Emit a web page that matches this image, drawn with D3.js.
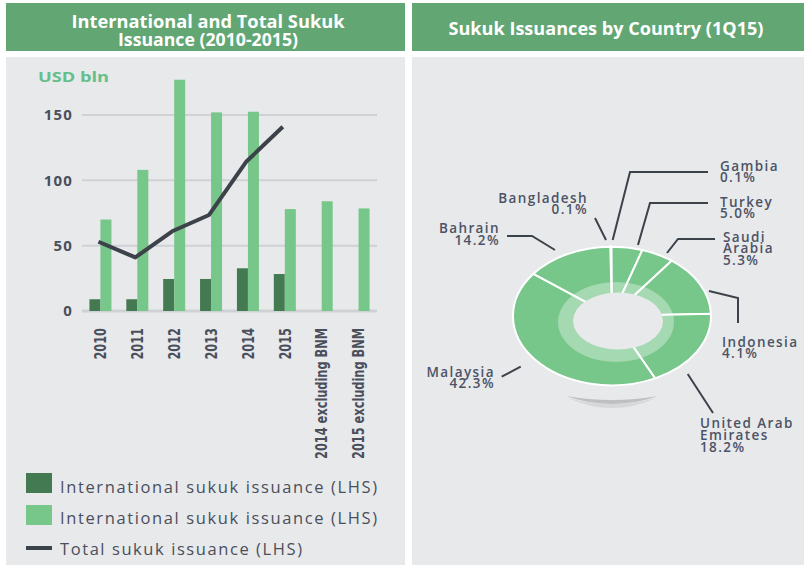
<!DOCTYPE html>
<html><head><meta charset="utf-8">
<script src="https://cdn.jsdelivr.net/npm/d3@7"></script>
<style>
html,body{margin:0;padding:0;background:#fff;}
svg{display:block;}
</style></head>
<body>
<svg id="c" width="804" height="565"></svg>
<script>
// ---- data ----
const categories = ["2010","2011","2012","2013","2014","2015","2014 excluding BNM","2015 excluding BNM"];
const intlDark  = [9, 9, 24.5, 24.5, 32.7, 28.3, null, null];
const intlLight = [70, 108, 177, 152, 152.5, 78, 84, 78.5];
const totalLine = [53, 41, 61, 73.5, 114, 141, null, null];
const yTicks = [0, 50, 100, 150];

const countries = ["Bangladesh","Gambia","Turkey","Saudi Arabia","Indonesia","United Arab Emirates","Malaysia","Bahrain"];
const shares    = [0.1, 0.1, 5.0, 5.3, 14.1, 18.2, 42.3, 14.2];
const shareText = ["0.1%","0.1%","5.0%","5.3%","4.1%","18.2%","42.3%","14.2%"];

// ---- style ----
const C = {
  panel:"#e8e9eb", header:"#62a673", dark:"#447a52", light:"#77c68a",
  line:"#3c424a", grid:"#cfd1d4", text:"#4a4f5c", usd:"#64bf8a"
};
const svg = d3.select("#c");

// panels & headers
svg.append("rect").attr("x",6).attr("y",57).attr("width",399).attr("height",508).attr("fill",C.panel);
svg.append("rect").attr("x",412).attr("y",57).attr("width",392).attr("height",508).attr("fill",C.panel);
svg.append("rect").attr("x",6).attr("y",3).attr("width",399).attr("height",48).attr("fill",C.header);
svg.append("rect").attr("x",412).attr("y",3).attr("width",392).attr("height",48).attr("fill",C.header);

const tf = "'Open Sans', sans-serif";
function title(txt, xc, yb, len){
  svg.append("text").attr("x",xc - len/2).attr("y",yb).attr("fill","#fff")
    .attr("font-family",tf).attr("font-weight",700).attr("font-size",17)
    .attr("textLength",len).attr("lengthAdjust","spacingAndGlyphs").text(txt);
}
title("International and Total Sukuk", 208, 28, 273);
title("Issuance (2010-2015)", 208, 46, 180);
title("Sukuk Issuances by Country (1Q15)", 606, 35, 315);

// ---- bar chart ----
const x = d3.scaleBand().domain(categories).range([82, 377]).padding(0);
const y = d3.scaleLinear().domain([0,150]).range([311,115]);
const bw = 11;

const g = svg.append("g");
g.selectAll("line.grid").data(yTicks).join("line")
  .attr("x1",82).attr("x2",377).attr("y1",d=>y(d)).attr("y2",d=>y(d))
  .attr("stroke",C.grid).attr("stroke-width",d=>d===0?3:2);

g.selectAll("text.yt").data(yTicks).join("text")
  .attr("x",73).attr("y",d=>y(d)).attr("dy","0.36em").attr("text-anchor","end")
  .attr("font-family",tf).attr("font-weight",700).attr("font-size",15).attr("letter-spacing",1.2)
  .attr("fill",C.text).text(d=>d);

svg.append("text").attr("x",38).attr("y",82).attr("font-family",tf).attr("font-weight",700)
  .attr("font-size",15).attr("textLength",71).attr("lengthAdjust","spacingAndGlyphs").attr("fill",C.usd).text("USD bln");

const cx = d => x(d) + x.bandwidth()/2;
g.selectAll("rect.d").data(categories.map((c,i)=>({c,v:intlDark[i]})).filter(d=>d.v!=null)).join("rect")
  .attr("x",d=>cx(d.c)-bw).attr("width",bw).attr("y",d=>y(d.v)).attr("height",d=>y(0)-y(d.v)).attr("fill",C.dark);
g.selectAll("rect.l").data(categories.map((c,i)=>({c,v:intlLight[i]}))).join("rect")
  .attr("x",d=>cx(d.c)).attr("width",bw).attr("y",d=>y(d.v)).attr("height",d=>y(0)-y(d.v)).attr("fill",C.light);

const lineData = categories.map((c,i)=>({c,v:totalLine[i]})).filter(d=>d.v!=null);
g.append("path").datum(lineData)
  .attr("d", d3.line().x(d=>cx(d.c)-2).y(d=>y(d.v)))
  .attr("fill","none").attr("stroke",C.line).attr("stroke-width",4).attr("stroke-linejoin","round");

const xl = g.selectAll("text.xl").data(categories).join("text")
  .attr("dy","0.36em").attr("text-anchor","end")
  .attr("font-family","'DejaVu Sans Condensed','DejaVu Sans',sans-serif")
  .attr("font-weight",700).attr("font-size",16).attr("fill",C.text).text(d=>d);
let longest = 0;
xl.each(function(){ longest = Math.max(longest, this.getComputedTextLength()); });
const k = 131 / longest;
xl.attr("transform",d=>`translate(${cx(d)},328) rotate(-90) scale(${k},1)`);

// legend
const legend = [
  {type:"rect", color:C.dark,  text:"International sukuk issuance (LHS)", y:473, by:492.7, w:317},
  {type:"rect", color:C.light, text:"International sukuk issuance (LHS)", y:505, by:523.5, w:317},
  {type:"line", color:C.line,  text:"Total sukuk issuance (LHS)", y:548, by:554.5, w:242}
];
legend.forEach(l=>{
  if(l.type==="rect") svg.append("rect").attr("x",26).attr("y",l.y).attr("width",26).attr("height",20).attr("fill",l.color);
  else svg.append("rect").attr("x",26).attr("y",l.y-2).attr("width",26).attr("height",4).attr("fill",l.color);
  svg.append("text").attr("x",60).attr("y",l.by).attr("font-family",tf).attr("font-size",16.5)
    .attr("fill",C.text).attr("textLength",l.w).attr("lengthAdjust","spacing").text(l.text);
});

// ---- donut ----
const pcx = 612, pcy = 316, R = 99, sy = 0.70;
svg.append("path").attr("d","M566,396 Q612,412 658,396 Q612,404 566,396 Z").attr("fill","#bfc0c3");
svg.append("path").attr("d","M568,398 Q612,418 656,398 Q612,410 568,398 Z").attr("fill","#d6d7d9");

const pie = d3.pie().sort(null).value(d=>d).startAngle(-Math.PI/180).endAngle(2*Math.PI - Math.PI/180);
const arcs = pie(shares);
const arc = d3.arc().innerRadius(0).outerRadius(R);
const pg = svg.append("g").attr("transform",`translate(${pcx},${pcy}) scale(1,${sy})`);
pg.selectAll("path").data(arcs).join("path").attr("d",arc).attr("fill",C.light)
  .attr("stroke","#fff").attr("stroke-width",2).attr("vector-effect","non-scaling-stroke");
svg.append("ellipse").attr("cx",616).attr("cy",322).attr("rx",58).attr("ry",40).attr("fill","#fff").attr("opacity",0.34);
svg.append("ellipse").attr("cx",618).attr("cy",321).attr("rx",45).attr("ry",28.5).attr("fill",C.panel);

// labels (annotation layout)
const labelLayout = [
  {lines:["Bangladesh"], x:588, y:202.7, anchor:"end", leader:[[595,218],[606,240]]},
  {lines:["Gambia"], x:720, y:170.7, anchor:"start", leader:[[708,172],[630,172],[612.7,240]]},
  {lines:["Turkey"], x:720, y:206.7, anchor:"start", leader:[[708,203],[650,203],[638,245]]},
  {lines:["Saudi","Arabia"], x:723, y:241.7, anchor:"start", leader:[[715,239],[678,239],[667,253]]},
  {lines:["Indonesia"], x:722, y:346.7, anchor:"start", leader:[[709,291],[738,298],[738,323]]},
  {lines:["United Arab","Emirates"], x:700, y:428.3, anchor:"start", leader:[[687.7,374],[713,413]]},
  {lines:["Malaysia"], x:495, y:376.7, anchor:"end", leader:[[501.7,376.7],[520.7,366.7]]},
  {lines:["Bahrain"], x:500, y:233.3, anchor:"end", leader:[[507,236],[532,236],[555,250]]}
];
const ll = svg.append("g");
labelLayout.forEach((L,i)=>{
  ll.append("path").attr("d",d3.line()(L.leader)).attr("fill","none").attr("stroke",C.line).attr("stroke-width",2);
  L.lines.concat([shareText[i]]).forEach((s,j)=>{
    ll.append("text").attr("x",L.x).attr("y",L.y + j*11.7).attr("text-anchor",L.anchor)
      .attr("font-family",tf).attr("font-weight",600).attr("font-size",13.5).attr("letter-spacing",1.4)
      .attr("fill","#4d5366").text(s);
  });
});
</script>
</body></html>
